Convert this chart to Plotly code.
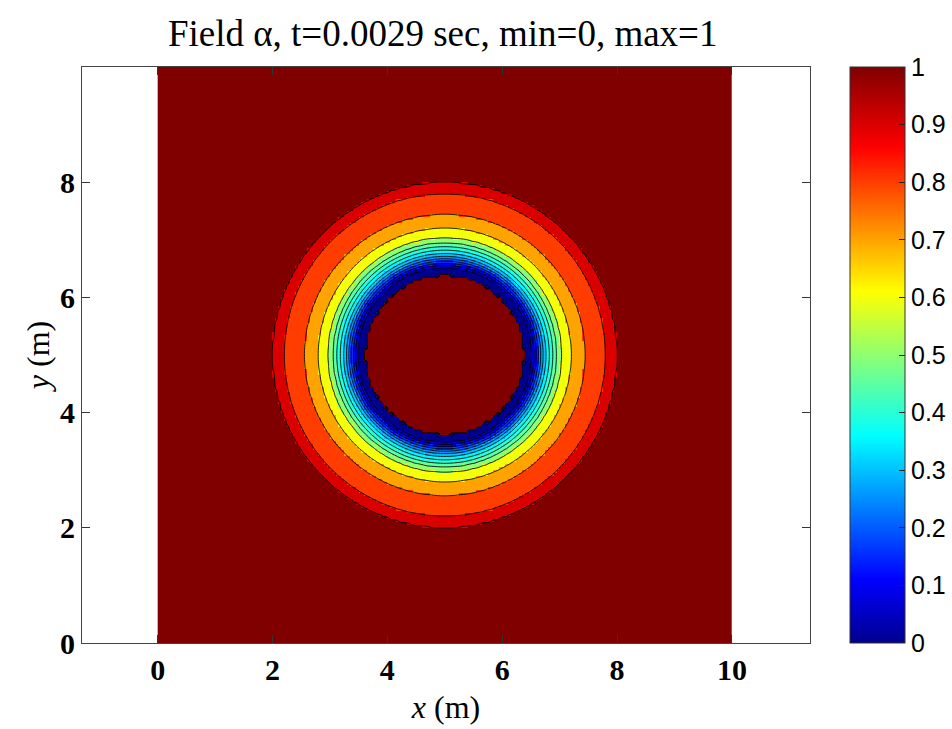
import numpy as np
import plotly.graph_objects as go

# ---- data ----
# contour levels used by the filled plot
levels = [0.0, 0.05, 0.1, 0.15, 0.2, 0.25, 0.3, 0.35, 0.4, 0.45, 0.5,
          0.6, 0.7, 0.8, 0.9, 1.0]
# radial profile of alpha about the centre (5, 5)
r_prof = [0.0, 1.379, 1.381, 1.46, 1.52, 1.55, 1.59, 1.63, 1.67, 1.71,
          1.76, 1.82, 1.88, 1.95, 2.03, 2.20, 2.44, 2.80, 3.00, 20.0]
alpha_prof = [1.0, 1.0, 0.0, 0.02, 0.05, 0.10, 0.15, 0.20, 0.25, 0.30,
              0.35, 0.40, 0.45, 0.50, 0.60, 0.70, 0.80, 0.90, 1.0, 1.0]
r_hole = 1.38
center = [5.0, 5.0]
domain = [0.0, 10.0]
cell = 0.05
x_ticks = [0, 2, 4, 6, 8, 10]
y_ticks = [0, 2, 4, 6, 8]
cbar_ticks = [0, 0.1, 0.2, 0.3, 0.4, 0.5, 0.6, 0.7, 0.8, 0.9, 1]
title_text = "Field \u03b1, t=0.0029 sec, min=0, max=1"

# ---- build field ----
xc = np.arange(domain[0] + cell / 2, domain[1], cell)
yc = np.arange(domain[0] + cell / 2, domain[1], cell)
X, Y = np.meshgrid(xc, yc)
R = np.sqrt((X - center[0]) ** 2 + (Y - center[1]) ** 2)
alpha = np.interp(R, r_prof, alpha_prof)
lev = np.array(levels)
idx = np.searchsorted(lev, alpha + 1e-9, side="right") - 1
idx = np.clip(idx, 0, len(lev) - 1)
zq = lev[idx]
# field used for the contour lines (no jump at the hole), and hole mask
alpha_line = np.where(R < r_hole, 0.0, alpha)
hole = (R < r_hole).astype(float)

jet = [
    [0.0, "rgb(0,0,143)"],
    [0.11, "rgb(0,0,255)"],
    [0.36, "rgb(0,255,255)"],
    [0.61, "rgb(255,255,0)"],
    [0.86, "rgb(255,0,0)"],
    [1.0, "rgb(128,0,0)"],
]

fig = go.Figure()
fig.add_trace(go.Heatmap(
    x=xc, y=yc, z=zq, zmin=0, zmax=1, colorscale=jet, zsmooth=False,
    hoverinfo="skip",
    colorbar=dict(
        x=1.055, xanchor="left", xref="paper", xpad=0, ypad=0,
        y=0, yanchor="bottom", len=1, lenmode="fraction",
        thickness=55, outlinewidth=1, outlinecolor="#333",
        tickvals=cbar_ticks, ticks="inside", ticklen=6, tickcolor="#222",
        tickfont=dict(family="Liberation Sans", size=25, color="black"),
    ),
))

line_sets = [(0.05, 0.5, 0.05), (0.6, 0.9, 0.1), (0.995, 0.995, 0.01)]
for s, e, d in line_sets:
    fig.add_trace(go.Contour(
        x=xc, y=yc, z=alpha_line, showscale=False, hoverinfo="skip",
        autocontour=False,
        contours=dict(start=s, end=e, size=d, coloring="none"),
        line=dict(color="rgba(0,0,0,0.85)", width=1),
    ))
fig.add_trace(go.Contour(
    x=xc, y=yc, z=hole, showscale=False, hoverinfo="skip",
    autocontour=False,
    contours=dict(start=0.5, end=0.5, size=1, coloring="none"),
    line=dict(color="rgba(0,0,0,0.85)", width=1),
))

tick_font = dict(family="Liberation Serif", size=30, color="black",
                 weight="bold")
axis_font = dict(family="Liberation Serif", size=32, color="black")
fig.update_layout(
    width=952, height=729,
    margin=dict(l=82, r=142, t=67, b=86, autoexpand=False),
    paper_bgcolor="white", plot_bgcolor="white",
    showlegend=False,
    title=dict(text=title_text, x=0.465, xanchor="center", y=0.955,
               yanchor="middle",
               font=dict(family="Liberation Serif", size=37, color="black")),
    xaxis=dict(
        range=[-1.318, 11.36], tickvals=x_ticks, ticks="inside", ticklen=8,
        tickcolor="#333", showline=True, linecolor="#444", linewidth=1,
        mirror="ticks", showgrid=False, zeroline=False,
        tickfont=tick_font,
        title=dict(text="<i>x</i> (m)", font=axis_font, standoff=10),
    ),
    yaxis=dict(
        range=[0, 10.0], tickvals=y_ticks, ticks="inside", ticklen=8,
        tickcolor="#333", showline=True, linecolor="#444", linewidth=1,
        mirror="ticks", showgrid=False, zeroline=False,
        tickfont=tick_font,
        title=dict(text="<i>y</i> (m)", font=axis_font, standoff=0),
    ),
)

fig.write_html("out.html",
               config={"displayModeBar": False},
               post_script="document.body.style.margin='0';")
